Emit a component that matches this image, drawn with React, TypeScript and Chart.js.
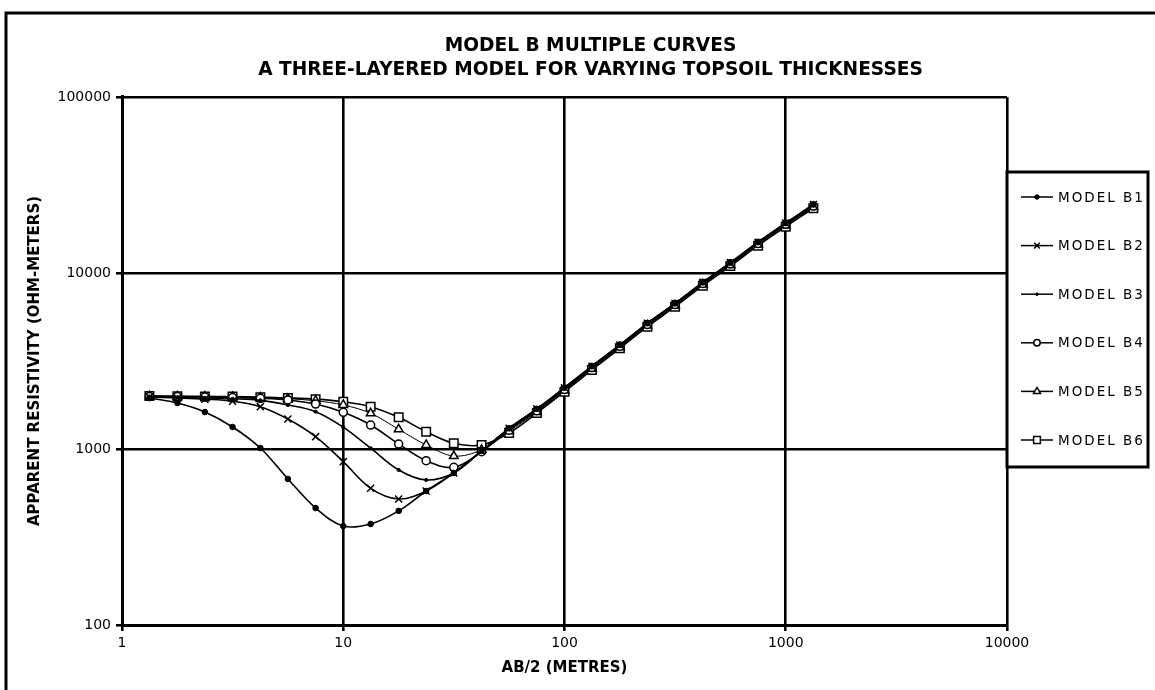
import React, { useEffect, useRef } from 'react';
import { Chart, registerables } from 'chart.js';
import { drawPoint } from 'chart.js/helpers';

Chart.register(...registerables);

const TITLE_LINES = ['MODEL B MULTIPLE CURVES', 'A THREE-LAYERED MODEL FOR VARYING TOPSOIL THICKNESSES'];
const X_TITLE = 'AB/2 (METRES)';
const Y_TITLE = 'APPARENT RESISTIVITY (OHM-METERS)';

const xTickValues = [1, 10, 100, 1000, 10000];
const xTickLabels = ['1', '10', '100', '1000', '10000'];
const yTickValues = [100, 1000, 10000, 100000];
const yTickLabels = ['100', '1000', '10000', '100000'];

const seriesLabels = ['MODEL B1', 'MODEL B2', 'MODEL B3', 'MODEL B4', 'MODEL B5', 'MODEL B6'];

// AB/2 electrode spacings (metres)
const spacing = [1.33, 1.78, 2.37, 3.16, 4.22, 5.62, 7.5, 10, 13.3, 17.8, 23.7, 31.6, 42.2, 56.2, 75, 100, 133, 178, 237, 316, 422, 562, 750, 1000, 1333];

const modelB1 = [1950, 1824, 1622, 1334, 1013, 676, 462, 365, 375, 445, 577, 731, 975, 1310, 1690, 2230, 2950, 3900, 5180, 6720, 8850, 11450, 14950, 19200, 24500];
const modelB2 = [1975, 1950, 1920, 1870, 1740, 1480, 1175, 847, 598, 520, 577, 731, 975, 1310, 1690, 2230, 2950, 3900, 5180, 6720, 8850, 11450, 14950, 19200, 24500];
const modelB3 = [1985, 1970, 1950, 1930, 1890, 1778, 1629, 1330, 1010, 760, 667, 731, 975, 1300, 1680, 2215, 2930, 3880, 5150, 6680, 8800, 11400, 14850, 19100, 24300];
const modelB4 = [1990, 1985, 1975, 1960, 1940, 1900, 1800, 1616, 1368, 1067, 858, 787, 965, 1280, 1650, 2180, 2900, 3840, 5100, 6620, 8720, 11280, 14700, 18900, 24000];
const modelB5 = [1995, 1990, 1985, 1975, 1960, 1930, 1880, 1780, 1595, 1294, 1054, 912, 990, 1260, 1625, 2150, 2860, 3790, 5030, 6530, 8600, 11120, 14500, 18600, 23700];
const modelB6 = [2000, 1995, 1990, 1985, 1970, 1950, 1920, 1857, 1740, 1514, 1254, 1077, 1054, 1233, 1601, 2116, 2811, 3735, 4955, 6433, 8470, 10960, 14300, 18330, 23320];

const seriesValues = [modelB1, modelB2, modelB3, modelB4, modelB5, modelB6];

const seriesStyles = [
  { pointStyle: 'circle', radius: 2.8, fill: '#000', borderWidth: 1, lineWidth: 1.6 },
  { pointStyle: 'crossRot', radius: 5, fill: '#000', borderWidth: 1.5, lineWidth: 1.6 },
  { pointStyle: 'circle', radius: 1.6, fill: '#000', borderWidth: 1, lineWidth: 1.6 },
  { pointStyle: 'circle', radius: 4, fill: '#fff', borderWidth: 1.5, lineWidth: 1.6 },
  { pointStyle: 'triangle', radius: 5, fill: '#fff', borderWidth: 1.5, lineWidth: 1 },
  { pointStyle: 'rect', radius: 6, fill: '#fff', borderWidth: 1.5, lineWidth: 1.6 },
];

const FONT = '"DejaVu Sans", "Liberation Sans", Arial, sans-serif';

const framePlugin = {
  id: 'frame',
  beforeDraw(chart: any) {
    const { ctx, width, height } = chart;
    ctx.save();
    ctx.fillStyle = '#fff';
    ctx.fillRect(0, 0, width, height);
    ctx.strokeStyle = '#000';
    ctx.lineWidth = 3;
    ctx.beginPath();
    ctx.moveTo(6, height);
    ctx.lineTo(6, 13);
    ctx.lineTo(width + 5, 13);
    ctx.stroke();
    ctx.restore();
  },
};

const boxLegendPlugin = {
  id: 'boxLegend',
  afterDraw(chart: any) {
    const { ctx, chartArea } = chart;
    ctx.save();
    const left = chartArea.right;
    const top = 172;
    const right = 1148;
    const bottom = 467;
    ctx.fillStyle = '#fff';
    ctx.fillRect(left, top, right - left, bottom - top);
    ctx.strokeStyle = '#000';
    ctx.lineWidth = 3;
    ctx.strokeRect(left, top, right - left, bottom - top);
    chart.data.datasets.forEach((ds: any, i: number) => {
      const y = 197 + i * 48.6;
      ctx.strokeStyle = '#000';
      ctx.lineWidth = 1.5;
      ctx.beginPath();
      ctx.moveTo(1021, y);
      ctx.lineTo(1053, y);
      ctx.stroke();
      ctx.fillStyle = ds.pointBackgroundColor;
      ctx.lineWidth = ds.pointBorderWidth;
      drawPoint(ctx, { pointStyle: ds.pointStyle, rotation: 0, radius: ds.pointRadius * 0.8, borderWidth: ds.pointBorderWidth }, 1037, y);
      ctx.fillStyle = '#000';
      ctx.font = `13.5px ${FONT}`;
      (ctx as any).letterSpacing = '2px';
      ctx.textBaseline = 'middle';
      ctx.textAlign = 'left';
      ctx.fillText(ds.label, 1058, y + 1);
      (ctx as any).letterSpacing = '0px';
    });
    ctx.restore();
  },
};

export default function App() {
  const ref = useRef<HTMLCanvasElement>(null);

  useEffect(() => {
    document.body.style.margin = '0';
    const canvas = ref.current;
    if (!canvas) return;
    const datasets = seriesLabels.map((label, i) => {
      const st = seriesStyles[i];
      return {
        label,
        data: spacing.map((x, j) => ({ x, y: seriesValues[i][j] })),
        borderColor: '#000',
        borderWidth: st.lineWidth,
        pointStyle: st.pointStyle,
        pointRadius: st.radius,
        pointBackgroundColor: st.fill,
        pointBorderColor: '#000',
        pointBorderWidth: st.borderWidth,
        tension: 0.35,
        fill: false,
        yAxisID: 'y',
      };
    });

    const chart = new Chart(canvas, {
      type: 'line',
      data: { datasets },
      options: {
        responsive: false,
        animation: false,
        devicePixelRatio: 1,
        layout: { padding: { left: 26, right: 0, top: 0, bottom: 0 } },
        plugins: {
          legend: { display: false },
          tooltip: { enabled: false },
          title: {
            display: true,
            text: TITLE_LINES,
            color: '#000',
            font: { family: FONT, size: 18.6, weight: 'bold', lineHeight: 1.29 },
            padding: { top: 34, bottom: 15 },
            align: 'center',
          },
        },
        scales: {
          x: {
            type: 'logarithmic',
            min: 1,
            max: 10000,
            afterBuildTicks: (axis: any) => {
              axis.ticks = xTickValues.map((v) => ({ value: v }));
            },
            afterFit: (axis: any) => {
              axis.height = 65;
            },
            ticks: {
              color: '#000',
              font: { family: FONT, size: 14 },
              padding: 4,
              maxRotation: 0,
              autoSkip: false,
              callback: (_v: any, i: number) => xTickLabels[i],
            },
            grid: { color: '#000', lineWidth: 2.6, tickLength: 6, drawTicks: true },
            border: { display: true, color: '#000', width: 3 },
            title: {
              display: true,
              text: X_TITLE,
              color: '#000',
              font: { family: FONT, size: 15, weight: 'bold', lineHeight: 1.2 },
              padding: { top: 0, bottom: 13 },
            },
          },
          y: {
            type: 'logarithmic',
            position: 'left',
            min: 100,
            max: 100000,
            afterBuildTicks: (axis: any) => {
              axis.ticks = yTickValues.map((v) => ({ value: v }));
            },
            afterFit: (axis: any) => {
              axis.width = 96;
            },
            ticks: {
              color: '#000',
              font: { family: FONT, size: 14 },
              padding: 5,
              autoSkip: false,
              callback: (_v: any, i: number) => yTickLabels[i],
            },
            grid: { color: '#000', lineWidth: 2.6, tickLength: 6, drawTicks: true },
            border: { display: true, color: '#000', width: 3 },
            title: {
              display: true,
              text: Y_TITLE,
              color: '#000',
              font: { family: FONT, size: 15, weight: 'bold', lineHeight: 1.2 },
              padding: { top: 0, bottom: 0 },
            },
          },
          legendSpace: {
            type: 'linear',
            position: 'right',
            display: true,
            afterFit: (axis: any) => {
              axis.width = 148;
            },
            ticks: { display: false },
            grid: { display: false, drawTicks: false },
            border: { display: false },
          },
        },
      },
      plugins: [framePlugin, boxLegendPlugin],
    } as any);

    return () => chart.destroy();
  }, []);

  return (
    <div style={{ width: 1155, height: 690, position: 'relative' }}>
      <canvas ref={ref} width={1155} height={690} style={{ display: 'block' }} />
    </div>
  );
}
